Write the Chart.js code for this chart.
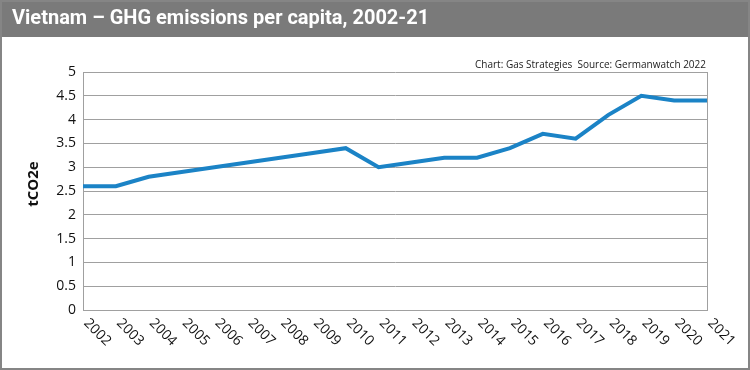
<!DOCTYPE html>
<html>
<head>
<meta charset="utf-8">
<script src="https://cdn.jsdelivr.net/npm/chart.js@4"></script>
<style>
html,body{margin:0;padding:0;background:#fff;}
#wrap{width:750px;height:370px;position:relative;}
</style>
</head>
<body>
<div id="wrap"><canvas id="c" width="750" height="370"></canvas></div>
<script>
const years = ["2002","2003","2004","2005","2006","2007","2008","2009","2010","2011","2012","2013","2014","2015","2016","2017","2018","2019","2020","2021"];
const emissions = [2.6,2.6,2.8,2.9,3.0,3.1,3.2,3.3,3.4,3.0,3.1,3.2,3.2,3.4,3.7,3.6,4.1,4.5,4.4,4.4];
const yTickLabels = ["0","0.5","1","1.5","2","2.5","3","3.5","4","4.5","5"];
const titleText = "Vietnam \u2013 GHG emissions per capita, 2002-21";
const sourceText = "Chart: Gas Strategies  Source: Germanwatch 2022";
const yTitle = "tCO2e";

const decor = {
  id: 'decor',
  beforeDraw(chart) {
    const ctx = chart.ctx;
    ctx.save();
    ctx.fillStyle = '#ffffff';
    ctx.fillRect(0, 0, 750, 370);
    ctx.fillStyle = '#7a7a7a';
    ctx.fillRect(0, 0, 750, 37);
    ctx.strokeStyle = '#858585';
    ctx.lineWidth = 2;
    ctx.strokeRect(1, 1, 748, 368);
    ctx.fillStyle = '#ffffff';
    ctx.font = 'bold 20px Roboto';
    ctx.textBaseline = 'middle';
    ctx.textAlign = 'left';
    ctx.fillText(titleText, 12, 19);
    ctx.restore();
  },
  afterDraw(chart) {
    const ctx = chart.ctx;
    const x = chart.scales.x, y = chart.scales.y;
    const a = chart.chartArea;
    ctx.save();
    // right border of plot
    ctx.strokeStyle = '#a0a0a0';
    ctx.lineWidth = 1;
    ctx.beginPath();
    ctx.moveTo(Math.round(a.right) + 0.5, a.top);
    ctx.lineTo(Math.round(a.right) + 0.5, a.bottom);
    ctx.stroke();
    // source
    ctx.fillStyle = '#222';
    ctx.font = '10px "Open Sans"';
    ctx.textAlign = 'right';
    ctx.textBaseline = 'alphabetic';
    ctx.fillText(sourceText, a.right - 1, 68);
    // y title
    ctx.save();
    ctx.translate(34, (a.top + a.bottom) / 2 - 7);
    ctx.rotate(-Math.PI / 2);
    ctx.textAlign = 'center';
    ctx.textBaseline = 'middle';
    ctx.font = 'bold 15px "Open Sans"';
    ctx.fillStyle = '#111';
    ctx.fillText(yTitle, 0, 0);
    ctx.restore();
    // x labels rotated clockwise
    ctx.font = '14px "Open Sans"';
    ctx.fillStyle = '#111';
    ctx.textAlign = 'left';
    ctx.textBaseline = 'middle';
    years.forEach((lab, i) => {
      const px = x.getPixelForValue(i);
      ctx.save();
      ctx.translate(px + 3, a.bottom + 11);
      ctx.rotate(Math.PI / 4);
      ctx.fillText(lab, 0, 0);
      ctx.restore();
    });
    ctx.restore();
  }
};

new Chart(document.getElementById('c'), {
  type: 'line',
  data: {
    labels: years,
    datasets: [{
      data: emissions,
      borderColor: '#1b83c6',
      borderWidth: 4,
      pointRadius: 0,
      tension: 0,
      fill: false
    }]
  },
  options: {
    responsive: false,
    animation: false,
    events: [],
    layout: { padding: { top: 72, left: 0, right: 43, bottom: 0 } },
    plugins: { legend: { display: false }, tooltip: { enabled: false }, title: { display: false } },
    scales: {
      x: {
        offset: false,
        grid: { display: false, drawTicks: false },
        border: { display: true, color: '#a0a0a0', width: 1 },
        ticks: { display: false },
        afterFit(s) { s.height = 60; }
      },
      y: {
        min: 0, max: 5,
        grid: { color: '#a0a0a0', lineWidth: 1, drawTicks: false },
        border: { display: true, color: '#a0a0a0', width: 1 },
        ticks: {
          stepSize: 0.5,
          padding: 7,
          color: '#111',
          font: { family: 'Open Sans', size: 14 },
          callback: (v, i) => yTickLabels[i]
        },
        afterFit(s) { s.width = 83; }
      }
    }
  },
  plugins: [decor]
});
</script>
</body>
</html>
